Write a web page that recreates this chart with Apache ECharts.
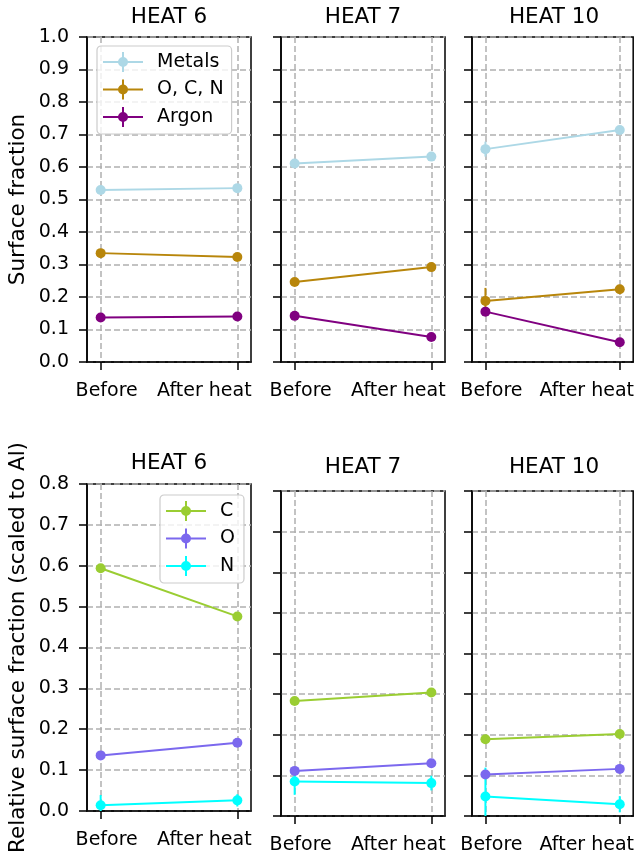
<!DOCTYPE html>
<html>
<head>
<meta charset="utf-8">
<script src="https://cdn.jsdelivr.net/npm/echarts@6/dist/echarts.min.js"></script>
<style>html,body{margin:0;padding:0;background:#fff;}#c{width:637px;height:855px;}</style>
</head>
<body>
<div id="c"></div>
<script>
// ---------- data ----------
const categories = ['Before', 'After heat'];
const heats = ['HEAT 6', 'HEAT 7', 'HEAT 10'];
const topNames = ['Metals', 'O, C, N', 'Argon'];
const botNames = ['C', 'O', 'N'];
const topTicks = [0, 0.1, 0.2, 0.3, 0.4, 0.5, 0.6, 0.7, 0.8, 0.9, 1.0];
const botTicks = [0, 0.1, 0.2, 0.3, 0.4, 0.5, 0.6, 0.7, 0.8];

// values per heat: [Before, After heat]
const metals = [[0.529, 0.535], [0.611, 0.632], [0.655, 0.714]];
const ocn    = [[0.335, 0.323], [0.246, 0.292], [0.188, 0.224]];
const argon  = [[0.137, 0.140], [0.142, 0.077], [0.155, 0.061]];
const metalsErr = [[0.005, 0.005], [0.005, 0.005], [0.023, 0.005]];
const ocnErr    = [[0.005, 0.005], [0.005, 0.005], [0.040, 0.005]];
const argonErr  = [[0.004, 0.004], [0.004, 0.004], [0.004, 0.004]];

const cVals = [[0.594, 0.476], [0.283, 0.304], [0.189, 0.202]];
const oVals = [[0.136, 0.167], [0.111, 0.130], [0.102, 0.116]];
const nVals = [[0.014, 0.026], [0.085, 0.081], [0.048, 0.029]];
const cErr = [[0.004, 0.004], [0.004, 0.004], [0.004, 0.004]];
const oErr = [[0.004, 0.004], [0.004, 0.004], [0.004, 0.004]];
const nErr = [[0.025, 0.015], [0.033, 0.018], [0.071, 0.02]];

// ---------- styles ----------
const FONT = 'DejaVu Sans';
const FS = 19;
const FS_BIG = 21.5;
const topColors = ['#add8e6', '#b8860b', '#800080'];
const botColors = ['#9acd32', '#7b68ee', '#00ffff'];
const gridCol = '#b0b0b0';

const grids = [
  {left: 87, top: 37, width: 164, height: 325},
  {left: 281, top: 37, width: 164, height: 325},
  {left: 472, top: 37, width: 164, height: 325},
  {left: 87, top: 484, width: 164, height: 327},
  {left: 281, top: 491, width: 164, height: 325},
  {left: 472, top: 491, width: 164, height: 325}
].map(g => Object.assign({show: true, borderColor: '#000', borderWidth: 1.5, containLabel: false}, g));

const xAxes = grids.map((g, i) => ({
  type: 'value', gridIndex: i, min: -0.1, max: 1.1,
  axisLine: {show: true, onZero: false, lineStyle: {color: '#000', width: 1.5}},
  axisTick: {show: true, customValues: [0, 1], length: 8, lineStyle: {color: '#000', width: 1.5}},
  axisLabel: {
    customValues: [0, 1], margin: 20,
    formatter: v => v === 0 ? '{b|' + categories[0] + '}' : '{a|' + categories[1] + '}',
    rich: {
      b: {fontFamily: FONT, fontSize: FS, color: '#000', padding: [0, 0, 0, 12]},
      a: {fontFamily: FONT, fontSize: FS, color: '#000', padding: [0, 66, 0, 0]}
    }
  },
  splitLine: {show: true, lineStyle: {color: gridCol, width: 1.5, type: [6, 3]}}
}));

const yAxes = grids.map((g, i) => {
  const ticks = i < 3 ? topTicks : botTicks;
  return {
    type: 'value', gridIndex: i, min: ticks[0], max: ticks[ticks.length - 1], interval: 0.1,
    name: i === 0 ? 'Surface fraction' : (i === 3 ? 'Relative surface fraction (scaled to Al)' : ''),
    nameLocation: 'middle', nameGap: 58,
    nameTextStyle: {fontFamily: FONT, fontSize: FS_BIG, color: '#000'},
    axisLine: {show: true, onZero: false, lineStyle: {color: '#000', width: 1.5}},
    axisTick: {show: true, length: 8, lineStyle: {color: '#000', width: 1.5}},
    axisLabel: {show: i === 0 || i === 3, margin: 18, fontFamily: FONT, fontSize: FS, color: '#000',
      formatter: v => v.toFixed(1)},
    splitLine: {show: true, lineStyle: {color: gridCol, width: 1.5, type: [6, 3]}}
  };
});

function errSeries(vals, errs, color, gi) {
  return {
    type: 'custom', xAxisIndex: gi, yAxisIndex: gi, clip: true, silent: true, z: 2,
    data: vals.map((v, k) => [k, v, errs[k]]),
    encode: {x: 0, y: 1},
    renderItem: (params, api) => {
      const x = api.value(0), y = api.value(1), e = api.value(2);
      const p1 = api.coord([x, y - e]);
      const p2 = api.coord([x, y + e]);
      return {type: 'line', shape: {x1: p1[0], y1: p1[1], x2: p2[0], y2: p2[1]},
        style: {stroke: color, lineWidth: 2}};
    }
  };
}
function lineSeries(name, vals, color, gi) {
  return {
    type: 'line', name: name, xAxisIndex: gi, yAxisIndex: gi, z: 3,
    data: vals.map((v, k) => [k, v]),
    symbol: 'circle', symbolSize: 10, showSymbol: true,
    itemStyle: {color: color}, lineStyle: {color: color, width: 2}
  };
}

const series = [];
const topGroups = [[metals, metalsErr], [ocn, ocnErr], [argon, argonErr]];
const botGroups = [[cVals, cErr], [oVals, oErr], [nVals, nErr]];
for (let h = 0; h < 3; h++) {
  topGroups.forEach((g, s) => {
    series.push(errSeries(g[0][h], g[1][h], topColors[s], h));
    series.push(lineSeries(topNames[s], g[0][h], topColors[s], h));
  });
  botGroups.forEach((g, s) => {
    series.push(errSeries(g[0][h], g[1][h], botColors[s], h + 3));
    series.push(lineSeries(botNames[s], g[0][h], botColors[s], h + 3));
  });
}

const iconPath = 'path://M0,9 h40 v2 h-40 z M19,0 h2 v20 h-2 z M25,10 a5,5 0 1,1 -10,0 a5,5 0 1,1 10,0 z';
function legend(names, left, top, padR) {
  return {
    data: names, orient: 'vertical', left: left, top: top,
    icon: iconPath, itemWidth: 40, itemHeight: 20, itemGap: 7.5,
    padding: [6, padR, 7, 6], borderColor: '#cccccc', borderWidth: 1.2, borderRadius: 4,
    backgroundColor: 'rgba(255,255,255,0.8)', selectedMode: false,
    textStyle: {fontFamily: FONT, fontSize: FS, color: '#000', padding: [0, 0, 0, 9]}
  };
}

const titleCenters = [169, 363, 554];
const titles = [];
for (let h = 0; h < 3; h++) {
  titles.push({text: heats[h], left: titleCenters[h], top: 6, textAlign: 'center', padding: 0,
    textStyle: {fontFamily: FONT, fontSize: FS_BIG, fontWeight: 'normal', color: '#000'}});
  titles.push({text: heats[h], left: titleCenters[h], top: h === 0 ? 452 : 456, textAlign: 'center', padding: 0,
    textStyle: {fontFamily: FONT, fontSize: FS_BIG, fontWeight: 'normal', color: '#000'}});
}

const chart = echarts.init(document.getElementById('c'), null, {renderer: 'canvas'});
chart.setOption({
  animation: false,
  backgroundColor: '#fff',
  title: titles,
  grid: grids,
  xAxis: xAxes,
  yAxis: yAxes,
  legend: [legend(topNames, 97, 46, 8), legend(botNames, 160, 495, 9)],
  series: series
});
</script>
</body>
</html>
